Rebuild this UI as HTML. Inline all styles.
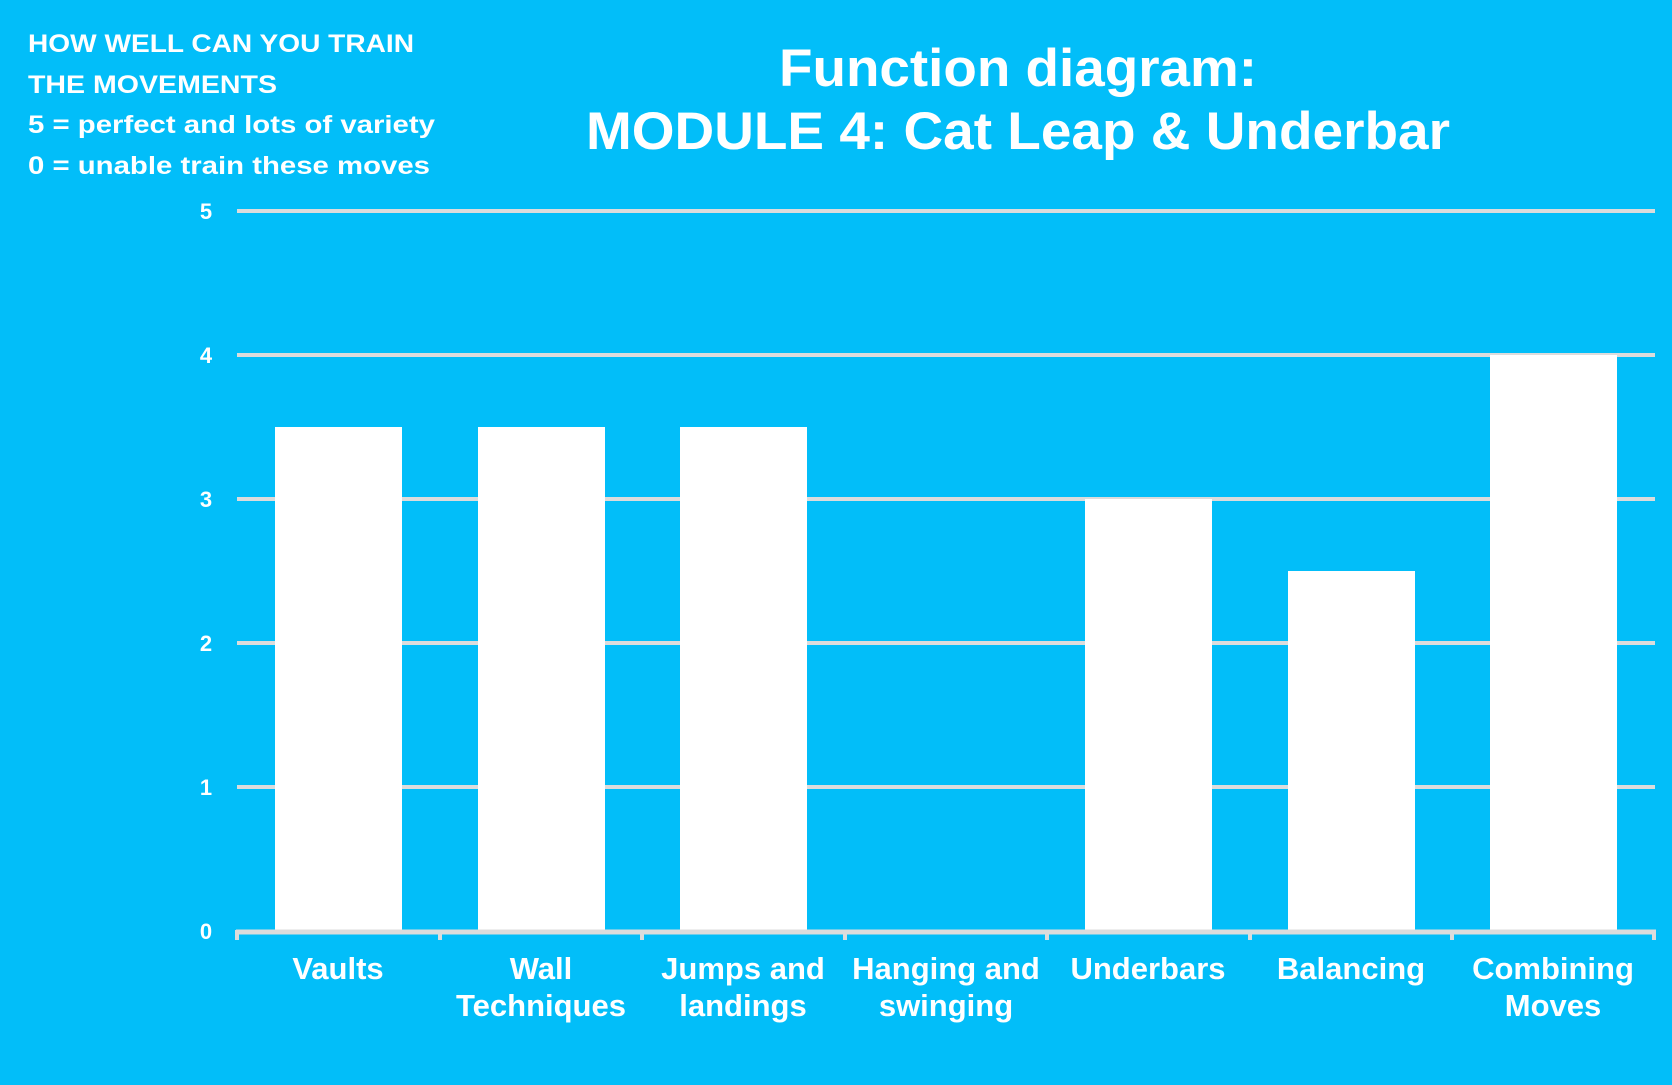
<!DOCTYPE html>
<html><head><style>
body{margin:0;width:1672px;height:1080px;background:#02bef9;overflow:hidden;font-family:"Liberation Sans",sans-serif;}
</style></head><body>
<svg width="1672" height="1080" xmlns="http://www.w3.org/2000/svg">
<rect width="1672" height="1080" fill="#02bef9"/>
<g font-family="Liberation Sans, sans-serif" font-weight="bold" fill="#fff">
<text x="28" y="52" font-size="25" textLength="386" lengthAdjust="spacingAndGlyphs">HOW WELL CAN YOU TRAIN</text>
<text x="28" y="93" font-size="25" textLength="249" lengthAdjust="spacingAndGlyphs">THE MOVEMENTS</text>
<text x="28" y="133" font-size="25" textLength="407" lengthAdjust="spacingAndGlyphs">5 = perfect and lots of variety</text>
<text x="28" y="174" font-size="25" textLength="402" lengthAdjust="spacingAndGlyphs">0 = unable train these moves</text>
<text x="1018" y="86" font-size="53" text-anchor="middle" textLength="478" lengthAdjust="spacingAndGlyphs">Function diagram:</text>
<text x="1018" y="149" font-size="53" text-anchor="middle" textLength="864" lengthAdjust="spacingAndGlyphs">MODULE 4: Cat Leap &amp; Underbar</text>
</g>
<g stroke="#dcdcdc" stroke-width="4">
<line x1="237" y1="211" x2="1655" y2="211"/>
<line x1="237" y1="355" x2="1655" y2="355"/>
<line x1="237" y1="499" x2="1655" y2="499"/>
<line x1="237" y1="643" x2="1655" y2="643"/>
<line x1="237" y1="787" x2="1655" y2="787"/>
</g>
<g fill="#fff">
<rect x="275" y="427" width="127" height="504"/>
<rect x="478" y="427" width="127" height="504"/>
<rect x="680" y="427" width="127" height="504"/>
<rect x="1085" y="499" width="127" height="432"/>
<rect x="1288" y="571" width="127" height="360"/>
<rect x="1490" y="355" width="127" height="576"/>
</g>
<g stroke="#dcdcdc" stroke-width="5">
<line x1="236" y1="932" x2="1656" y2="932"/>
</g>
<g stroke="#dcdcdc" stroke-width="4">
<line x1="237" y1="930" x2="237" y2="940"/><line x1="440" y1="930" x2="440" y2="940"/>
<line x1="642" y1="930" x2="642" y2="940"/><line x1="845" y1="930" x2="845" y2="940"/>
<line x1="1047" y1="930" x2="1047" y2="940"/><line x1="1250" y1="930" x2="1250" y2="940"/>
<line x1="1452" y1="930" x2="1452" y2="940"/><line x1="1654" y1="930" x2="1654" y2="940"/>
</g>
<g font-family="Liberation Sans, sans-serif" font-weight="bold" fill="#fff" font-size="22" text-anchor="middle">
<text x="206" y="219">5</text><text x="206" y="363">4</text><text x="206" y="507">3</text>
<text x="206" y="651">2</text><text x="206" y="795">1</text><text x="206" y="939">0</text>
</g>
<g font-family="Liberation Sans, sans-serif" font-weight="bold" fill="#fff" font-size="31" text-anchor="middle">
<text x="338" y="979">Vaults</text>
<text x="541" y="979">Wall</text><text x="541" y="1016">Techniques</text>
<text x="743" y="979">Jumps and</text><text x="743" y="1016">landings</text>
<text x="946" y="979">Hanging and</text><text x="946" y="1016">swinging</text>
<text x="1148" y="979">Underbars</text>
<text x="1351" y="979">Balancing</text>
<text x="1553" y="979">Combining</text><text x="1553" y="1016">Moves</text>
</g>
</svg>
</body></html>
